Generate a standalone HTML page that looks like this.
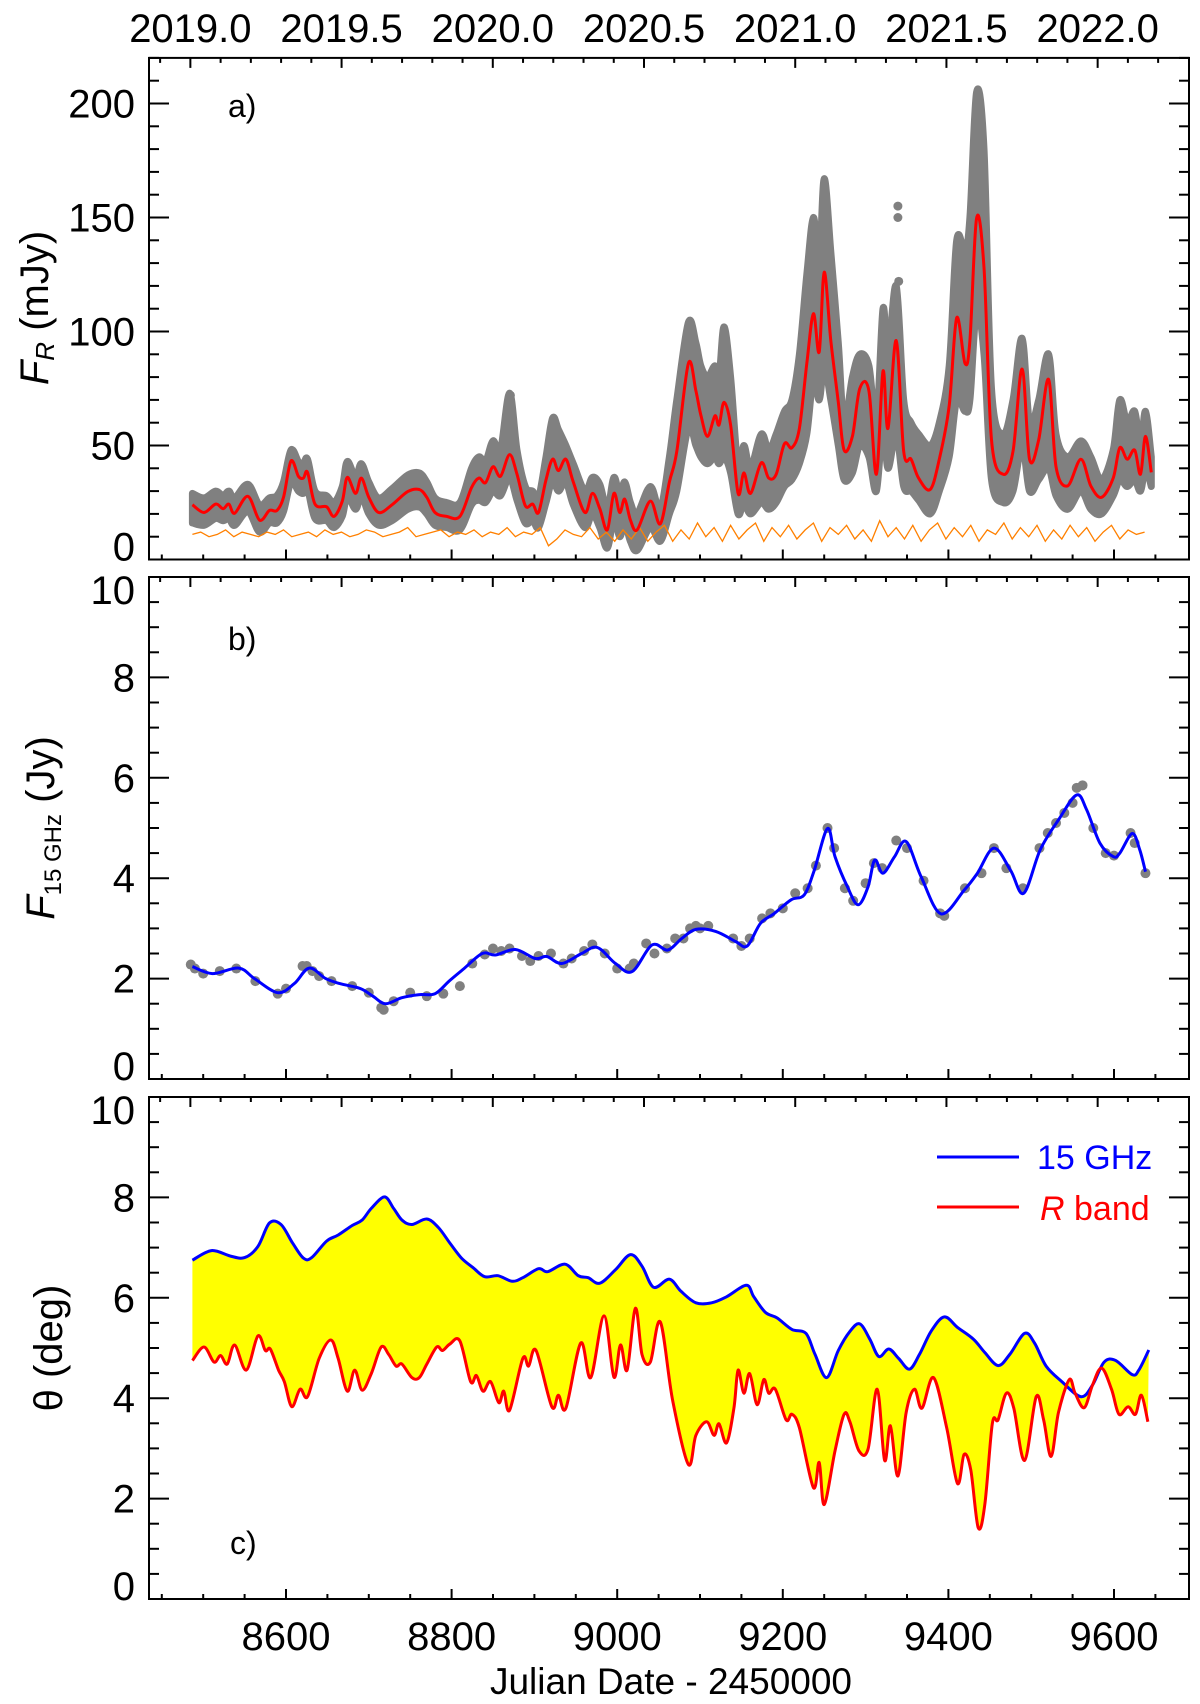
<!DOCTYPE html>
<html><head><meta charset="utf-8"><style>
html,body{margin:0;padding:0;background:#fff}
svg{display:block}
text{font-family:"Liberation Sans",sans-serif;fill:#000}
</style></head><body>
<svg id="fig" width="1200" height="1704" viewBox="0 0 1200 1704" xmlns="http://www.w3.org/2000/svg">
<rect x="0" y="0" width="1200" height="1704" fill="#fff"/>
<g id="marks"></g>
<g id="axes"></g>
<text x="228" y="117" font-size="32">a)</text>
<text x="228" y="650" font-size="32">b)</text>
<text x="230" y="1554" font-size="32">c)</text>
<text transform="translate(48,308) rotate(-90)" text-anchor="middle" font-size="40"><tspan font-style="italic">F</tspan><tspan font-style="italic" font-size="26" dy="6">R</tspan><tspan dy="-6"> (mJy)</tspan></text>
<text transform="translate(54,828) rotate(-90)" text-anchor="middle" font-size="40"><tspan font-style="italic">F</tspan><tspan font-size="24" dy="7">15 GHz</tspan><tspan dy="-7"> (Jy)</tspan></text>
<text transform="translate(62,1348) rotate(-90)" text-anchor="middle" font-size="40">θ (deg)</text>
<text x="671" y="1694" text-anchor="middle" font-size="37">Julian Date - 2450000</text>
<g>
<line x1="937" y1="1157" x2="1019" y2="1157" stroke="#0000ff" stroke-width="3"/>
<text x="1037" y="1169" font-size="34" style="fill:#0000ff">15 GHz</text>
<line x1="937" y1="1207" x2="1019" y2="1207" stroke="#ff0000" stroke-width="3"/>
<text x="1040" y="1220" font-size="34" style="fill:#ff0000"><tspan font-style="italic">R</tspan> band</text>
</g>
</svg>
<script>
// ---- Panel a data ----
const redJD=[8487,8501,8515,8524,8531,8538,8554,8568,8580,8589,8597,8606,8615,8621,8626,8635,8649,8658,8668,8674,8684,8691,8700,8712,8728,8747,8761,8770,8780,8794,8810,8824,8833,8841,8850,8859,8870,8879,8889,8898,8905,8914,8922,8929,8938,8947,8961,8970,8979,8988,8996,9003,9009,9016,9024,9040,9052,9063,9072,9086,9095,9101,9109,9118,9123,9129,9137,9146,9153,9161,9174,9183,9192,9202,9211,9220,9229,9237,9244,9250,9258,9267,9274,9284,9293,9304,9313,9321,9327,9337,9346,9355,9364,9378,9389,9401,9410,9420,9426,9434,9443,9452,9466,9478,9489,9498,9509,9521,9530,9544,9560,9572,9585,9599,9607,9616,9625,9632,9638,9645];
const redFlux=[24,20.6,24.3,22.3,24.3,20.3,27.7,17.3,21.5,21.5,27.3,43.2,36.5,35.7,38.2,24.3,23.1,18.9,25.6,36,29,35.7,27.3,20.6,24,29.8,30.7,27.3,20.6,18.9,18.9,31.5,35.7,33.7,40.7,36.5,46,37.4,23.6,24.3,20.6,34.9,44,39,44,34,20.6,29,22.3,13,29,20.6,26.5,17.3,13,25.6,15.6,34,47.4,86,74,63.4,54,63,59,69,59,29,38,29,42.4,35.7,37.4,50.8,49,57.5,86,107.8,91,126,96,69,48,54,75,74,37.4,82.6,57.5,96,47.4,44,35.7,30.7,44,67.5,106,86,96,149.7,128,52.5,37.4,47.4,83.5,44,52.5,79,40.7,32.3,44,32.3,27.3,35.7,49,44,48,37.4,54,38.2];
const grayHigh=[29,27,30,28,30,27,33,24,27,28,34,48,43,42,44,30,28,25,32,43,36,42,34,27,31,37,38,34,27,25,25,40,45,43,52,48,73,48,32,30,27,45,62,57,50,42,30,36,33,22,36,28,34,25,20,32,22,45,70,104,95,85,80,85,80,102,80,40,50,40,55,48,55,65,70,90,125,150,130,167,135,95,60,80,90,85,60,110,90,120,70,60,55,50,60,85,140,135,150,205,180,75,55,70,97,60,70,90,55,45,52,45,35,48,70,60,65,50,65,45];
const grayLow=[16,15,18,17,18,15,21,12,16,16,21,34,30,29,31,18,17,14,19,28,22,28,20,15,17,22,23,20,15,14,13,24,26,25,30,28,36,26,16,17,14,25,35,30,34,24,14,20,14,5,18,10,16,8,4,14,8,20,30,58,50,45,42,45,42,45,38,20,25,20,25,22,25,32,35,42,55,80,70,85,70,50,35,38,50,45,30,60,40,55,32,30,26,20,30,45,70,65,70,110,90,35,25,30,50,30,35,40,28,22,30,22,20,28,35,32,35,30,40,32];
const outlierJD=[9339,9339,9340,8871,8923,8925];
const outlierFlux=[155,150,122,72,60,57];
const orangeStart=8487, orangeStep=10;
const orangeFlux=[11,12,10,11,13,10,12,11,10,12,11,13,10,11,12,10,13,11,12,10,11,13,12,10,11,12,14,10,11,12,13,10,12,11,13,10,12,11,14,10,12,11,14,6,9,13,11,10,14,9,12,8,13,9,14,8,12,15,8,13,9,16,10,14,8,15,9,13,16,8,14,10,15,9,13,16,8,14,11,15,9,13,8,17,10,14,9,15,8,13,16,9,14,10,15,8,13,11,16,9,14,10,15,8,13,9,15,10,14,8,12,15,9,13,11,12];
// ---- Panel b data ----
const blueJD=[8487,8511,8543,8562,8590,8610,8628,8648,8665,8690,8705,8720,8740,8760,8780,8797,8815,8837,8853,8877,8901,8915,8933,8957,8976,8998,9018,9042,9061,9078,9095,9119,9143,9157,9173,9190,9210,9226,9238,9254,9263,9278,9291,9303,9311,9321,9335,9349,9367,9391,9419,9435,9455,9475,9491,9511,9534,9555,9567,9583,9599,9607,9622,9631,9638];
const blueFlux=[2.24,2.10,2.21,2.0,1.72,1.9,2.21,2.0,1.9,1.8,1.65,1.5,1.62,1.68,1.7,1.95,2.2,2.5,2.47,2.58,2.40,2.44,2.30,2.50,2.62,2.30,2.14,2.67,2.57,2.80,2.98,2.94,2.74,2.65,3.10,3.30,3.57,3.67,4.16,4.99,4.43,3.83,3.47,3.83,4.36,4.10,4.43,4.73,4.03,3.29,3.76,4.10,4.60,4.16,3.70,4.57,5.19,5.66,5.36,4.70,4.43,4.50,4.89,4.57,4.13];
const obsJD=[8485,8490,8500,8520,8540,8563,8590,8600,8620,8625,8632,8640,8655,8680,8700,8715,8718,8730,8750,8770,8790,8810,8825,8840,8850,8860,8870,8885,8895,8905,8920,8935,8945,8960,8970,8985,9000,9015,9020,9035,9045,9060,9070,9080,9088,9095,9100,9110,9140,9150,9160,9175,9185,9200,9215,9230,9240,9254,9262,9275,9285,9300,9310,9320,9337,9350,9370,9390,9395,9420,9440,9455,9470,9490,9510,9520,9530,9540,9550,9555,9562,9575,9590,9600,9620,9625,9638];
const obsFlux=[2.28,2.2,2.1,2.15,2.2,1.95,1.7,1.8,2.25,2.25,2.15,2.05,1.95,1.85,1.72,1.42,1.38,1.55,1.72,1.65,1.7,1.85,2.3,2.48,2.6,2.55,2.6,2.45,2.35,2.45,2.5,2.3,2.4,2.55,2.68,2.5,2.2,2.2,2.3,2.7,2.5,2.6,2.8,2.8,3.0,3.05,3.0,3.05,2.8,2.65,2.8,3.2,3.3,3.4,3.7,3.8,4.25,5.0,4.6,3.8,3.55,3.9,4.3,4.2,4.75,4.6,3.95,3.3,3.25,3.8,4.1,4.6,4.2,3.8,4.6,4.9,5.1,5.3,5.5,5.8,5.85,5.0,4.5,4.45,4.9,4.7,4.1];
// ---- Panel c data ----
const thetaBlueJD=[8487,8510,8533,8550,8566,8580,8594,8608,8621,8631,8649,8663,8680,8692,8703,8719,8730,8740,8752,8770,8784,8798,8812,8826,8840,8856,8873,8886,8905,8916,8937,8953,8965,8979,8998,9016,9030,9044,9063,9077,9095,9114,9132,9156,9165,9179,9193,9211,9228,9239,9253,9267,9281,9293,9305,9316,9328,9340,9353,9365,9379,9395,9411,9430,9444,9460,9474,9492,9504,9518,9537,9560,9574,9588,9602,9622,9630,9642];
const thetaBlue=[6.75,6.94,6.83,6.80,7.02,7.49,7.46,7.09,6.79,6.80,7.13,7.25,7.44,7.55,7.78,8.01,7.78,7.55,7.46,7.57,7.40,7.09,6.79,6.60,6.42,6.44,6.33,6.40,6.58,6.52,6.67,6.44,6.40,6.29,6.56,6.86,6.63,6.21,6.37,6.13,5.90,5.90,6.02,6.25,6.02,5.71,5.60,5.37,5.29,4.87,4.41,4.95,5.33,5.48,5.18,4.83,4.98,4.79,4.58,4.87,5.33,5.62,5.41,5.18,4.91,4.65,4.87,5.29,5.10,4.64,4.33,4.03,4.26,4.72,4.75,4.47,4.56,4.96];
const thetaRedJD=[8487,8501,8513,8521,8529,8538,8552,8566,8575,8581,8591,8598,8607,8617,8626,8640,8654,8663,8674,8683,8692,8703,8715,8724,8733,8740,8752,8761,8770,8782,8789,8798,8810,8823,8830,8838,8847,8857,8863,8870,8886,8893,8902,8921,8929,8938,8956,8968,8984,8996,9004,9012,9022,9030,9040,9052,9067,9086,9095,9108,9117,9123,9132,9141,9146,9153,9160,9169,9177,9183,9191,9204,9211,9220,9237,9244,9250,9263,9274,9281,9292,9303,9314,9323,9330,9339,9349,9359,9368,9382,9398,9411,9419,9427,9436,9444,9453,9460,9470,9479,9492,9506,9515,9524,9533,9546,9553,9564,9574,9585,9597,9606,9617,9626,9633,9641];
const thetaRed=[4.75,5.02,4.72,4.85,4.68,5.06,4.56,5.24,4.95,4.98,4.56,4.33,3.83,4.18,4.03,4.79,5.16,4.79,4.14,4.56,4.16,4.49,5.02,4.87,4.64,4.68,4.41,4.41,4.68,5.02,4.95,5.08,5.14,4.33,4.45,4.14,4.33,3.91,4.14,3.76,4.79,4.64,4.95,3.83,4.06,3.80,5.10,4.41,5.64,4.42,5.06,4.56,5.79,4.87,4.72,5.52,3.95,2.68,3.26,3.53,3.26,3.49,3.11,3.80,4.56,4.10,4.49,3.87,4.37,4.10,4.18,3.57,3.68,3.41,2.22,2.72,1.88,2.95,3.68,3.53,2.95,2.99,4.18,2.76,3.45,2.45,3.72,4.18,3.80,4.41,3.41,2.30,2.88,2.57,1.42,1.88,3.49,3.57,4.10,3.80,2.76,4.03,3.57,2.84,3.72,4.37,4.10,3.81,4.26,4.60,4.18,3.68,3.83,3.68,4.06,3.53];
// ---- Axis ticks ----
const jdTickLabels=[8600,8800,9000,9200,9400,9600];
const yearTickLabels=["2019.0","2019.5","2020.0","2020.5","2021.0","2021.5","2022.0"];
const fluxTickLabels=[0,50,100,150,200];
const jyTickLabels=[0,2,4,6,8,10];

const NS="http://www.w3.org/2000/svg";
const L=149,R=1189;
const panels={a:{top:57.9,bot:559.5,max:220},b:{top:577,bot:1079,max:10},c:{top:1097,bot:1599,max:10}};
function X(jd){return 286+(jd-8600)*0.828;}
function Y(p,v){const P=panels[p];return P.bot-(v/P.max)*(P.bot-P.top);}
function yearJD(y){return 8484.5+(y-2019)*365.25;}
const marks=document.getElementById('marks'), axes=document.getElementById('axes');
function el(tag,attrs,parent){const e=document.createElementNS(NS,tag);for(const k in attrs)e.setAttribute(k,attrs[k]);(parent||marks).appendChild(e);return e;}
function smoothD(pts,start){
  let d=(start||'M')+pts[0][0].toFixed(1)+','+pts[0][1].toFixed(1);
  for(let i=0;i<pts.length-1;i++){
    const p0=pts[Math.max(i-1,0)],p1=pts[i],p2=pts[i+1],p3=pts[Math.min(i+2,pts.length-1)];
    const c1x=p1[0]+(p2[0]-p0[0])/6,c1y=p1[1]+(p2[1]-p0[1])/6;
    const c2x=p2[0]-(p3[0]-p1[0])/6,c2y=p2[1]-(p3[1]-p1[1])/6;
    d+=' C'+c1x.toFixed(1)+','+c1y.toFixed(1)+' '+c2x.toFixed(1)+','+c2y.toFixed(1)+' '+p2[0].toFixed(1)+','+p2[1].toFixed(1);
  }
  return d;
}
// Panel a marks
{
  const hi=redJD.map((j,i)=>[X(j),Y('a',grayHigh[i])]);
  const lo=redJD.map((j,i)=>[X(j),Y('a',grayLow[i])]).reverse();
  const band=el('path',{d:smoothD(hi)+' '+smoothD(lo,'L')+' Z',fill:'#808080',stroke:'#808080','stroke-width':7,'stroke-linejoin':'round'});
  
  
  outlierJD.forEach((j,i)=>{
    const c=el('circle',{cx:X(j),cy:Y('a',outlierFlux[i]),r:4.5,fill:'#808080'});
    
    
  });
  const op=orangeFlux.map((v,i)=>[X(orangeStart+i*orangeStep),Y('a',v)]);
  const orange=el('polyline',{points:op.map(p=>p[0].toFixed(1)+','+p[1].toFixed(1)).join(' '),fill:'none',stroke:'#ff8000','stroke-width':1.3});
  
  
  const red=el('path',{d:smoothD(redJD.map((j,i)=>[X(j),Y('a',redFlux[i])])),fill:'none',stroke:'#ff0000','stroke-width':3});
  
  
}
// Panel b marks
{
  obsJD.forEach((j,i)=>{
    const c=el('circle',{cx:X(j),cy:Y('b',obsFlux[i]),r:5,fill:'#808080'});
    
    
  });
  const b=el('path',{d:smoothD(blueJD.map((j,i)=>[X(j),Y('b',blueFlux[i])])),fill:'none',stroke:'#0000ff','stroke-width':3});
  
  
}
// Panel c marks
{
  const bp=thetaBlueJD.map((j,i)=>[X(j),Y('c',thetaBlue[i])]);
  const rp=thetaRedJD.map((j,i)=>[X(j),Y('c',thetaRed[i])]);
  const fill=el('path',{d:smoothD(bp)+' '+smoothD(rp.slice().reverse(),'L')+' Z',fill:'#ffff00',stroke:'none'});
  
  
  const bl=el('path',{d:smoothD(bp),fill:'none',stroke:'#0000ff','stroke-width':3});
  
  
  const rl=el('path',{d:smoothD(rp),fill:'none',stroke:'#ff0000','stroke-width':3});
  
  
}
// Axes
for(const p of ['a','b','c']){
  const P=panels[p];
  const fr=el('rect',{x:L,y:P.top,width:R-L,height:P.bot-P.top,fill:'none',stroke:'#000','stroke-width':2},axes);
  
  
  for(let j=8450;j<=9690;j+=50){
    const big=(j%200===0);const x=X(j);
    el('line',{x1:x,x2:x,y1:P.bot,y2:P.bot-(big?10:5),stroke:'#000','stroke-width':2},axes);
  }
  for(let k=-4;k<=34;k++){
    const y=2019+k*0.1;const x=X(yearJD(y));
    if(x<L+1||x>R-1)continue;
    const big=(k%5===0);
    el('line',{x1:x,x2:x,y1:P.top,y2:P.top+(big?10:5),stroke:'#000','stroke-width':2},axes);
  }
  const step=(p==='a')?10:0.5, majorStep=(p==='a')?50:2;
  for(let v=0;v<=P.max+1e-6;v+=step){
    const y=Y(p,v);const big=Math.abs(v/majorStep-Math.round(v/majorStep))<1e-6;
    const len=big?20:10;
    el('line',{x1:L,x2:L+len,y1:y,y2:y,stroke:'#000','stroke-width':2},axes);
    el('line',{x1:R,x2:R-len,y1:y,y2:y,stroke:'#000','stroke-width':2},axes);
  }
  const labels=(p==='a')?fluxTickLabels:jyTickLabels;
  labels.forEach(v=>{
    let off=14;
    if(v===0) off=1;
    if(p!=='a' && v===10) off=27;
    const t=el('text',{x:135,y:Y(p,v)+off,'text-anchor':'end','font-size':40},axes);
    t.textContent=String(v);
    
    
  });
}
jdTickLabels.forEach(v=>{
  const t=el('text',{x:X(v),y:1650,'text-anchor':'middle','font-size':40},axes);
  t.textContent=String(v);
  
  
});
yearTickLabels.forEach(s=>{
  const t=el('text',{x:X(yearJD(parseFloat(s))),y:42,'text-anchor':'middle','font-size':40},axes);
  t.textContent=s;
  
  
});
</script>
</body></html>
